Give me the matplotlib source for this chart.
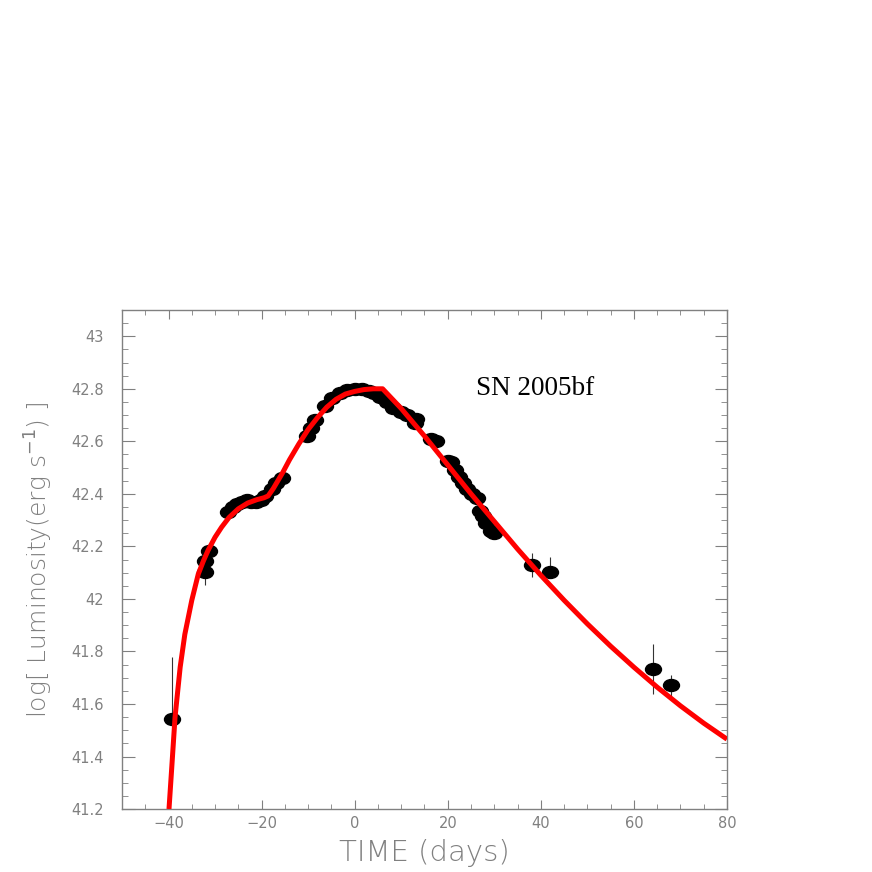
import numpy as np
import matplotlib.pyplot as plt
from matplotlib.path import Path
from matplotlib.transforms import Affine2D
from matplotlib.ticker import MultipleLocator, FuncFormatter

# observed bolometric light curve of SN 2005bf
days = [-39.2, -32.2, -32.2, -31.3, -27.2, -26.2, -25.2, -24.2, -23.2, -22.2,
        -21.2, -20.2, -19.2, -17.8, -16.9, -15.6, -10.3, -9.4, -8.5, -6.4,
        -4.8, -3.2, -1.6, 0.0, 1.5, 3.0, 4.2, 5.5, 7.0, 8.3,
        10.0, 11.3, 12.9, 13.2, 16.5, 17.5, 20.0, 20.8, 21.6, 22.4,
        23.2, 24.2, 25.3, 26.2, 26.9, 27.6, 28.3, 29.3, 30.0, 38.0,
        42.0, 64.0, 68.0]
logL = [41.542, 42.102, 42.144, 42.182, 42.33, 42.35, 42.36, 42.37, 42.375, 42.37,
        42.37, 42.375, 42.39, 42.42, 42.44, 42.46, 42.62, 42.65, 42.68, 42.735,
        42.765, 42.785, 42.795, 42.80, 42.80, 42.79, 42.785, 42.77, 42.75, 42.725,
        42.71, 42.70, 42.67, 42.685, 42.61, 42.60, 42.525, 42.52, 42.49, 42.465,
        42.44, 42.42, 42.40, 42.385, 42.335, 42.315, 42.29, 42.26, 42.25, 42.128,
        42.101, 41.732, 41.671]
err_lo = [0.0, 0.05] + [0.0] * 47 + [0.045, 0.0, 0.095, 0.04]
err_hi = [0.238, 0.0] + [0.0] * 47 + [0.045, 0.06, 0.095, 0.04]

# model curve
model_days = [-39.9, -39.3, -38.6, -37.5, -36.5, -35.0, -33.6, -32.5, -31.5, -30.0,
              -28.6, -27.0, -25.0, -23.0, -21.0, -19.5, -18.6, -17.5, -16.5, -15.5,
              -14.0, -12.0, -10.0, -8.0, -6.0, -4.0, -2.0, 0.0, 2.0, 4.0,
              6.0, 10.0, 15.0, 20.0, 25.0, 30.0, 35.0, 40.0, 45.0, 50.0,
              55.0, 60.0, 65.0, 70.0, 75.0, 80.0]
model_logL = [41.20, 41.36, 41.55, 41.74, 41.865, 41.995, 42.095, 42.145, 42.185, 42.235,
              42.273, 42.31, 42.343, 42.365, 42.378, 42.385, 42.392, 42.42, 42.45, 42.48,
              42.53, 42.59, 42.645, 42.69, 42.73, 42.76, 42.78, 42.79, 42.797, 42.80,
              42.80, 42.725, 42.62, 42.51, 42.40, 42.295, 42.19, 42.09, 41.995, 41.905,
              41.82, 41.74, 41.664, 41.593, 41.527, 41.466]

gray = '#808080'
plt.rcParams['font.family'] = ['DejaVu Sans']

fig = plt.figure(figsize=(8.72, 8.72), dpi=100)
ax = fig.add_axes([0.1399, 0.0722, 0.6938, 0.5723])

ellipse = Path.unit_circle().transformed(Affine2D().scale(1.0, 0.75))

ax.errorbar(days, logL, yerr=[err_lo, err_hi], fmt='none', ecolor='#333333',
            elinewidth=0.8, capsize=0, zorder=2)
ax.plot(days, logL, linestyle='none', marker=ellipse, markersize=11.5,
        color='black', zorder=3)
ax.plot(model_days, model_logL, color='red', linewidth=3.6, zorder=4,
        solid_capstyle='butt', solid_joinstyle='round')

ax.set_xlim(-50, 80)
ax.set_ylim(41.2, 43.1)
ax.xaxis.set_major_locator(MultipleLocator(20))
ax.xaxis.set_minor_locator(MultipleLocator(5))
ax.yaxis.set_major_locator(MultipleLocator(0.2))
ax.yaxis.set_minor_locator(MultipleLocator(0.05))
ax.yaxis.set_major_formatter(FuncFormatter(lambda v, p: ('%.1f' % v).rstrip('0').rstrip('.')))

ax.tick_params(axis='both', which='both', direction='in', top=True, right=True,
               color=gray, labelcolor=gray, labelsize=10.5)
ax.tick_params(axis='y', which='major', length=9, pad=13)
ax.tick_params(axis='y', which='minor', length=4.3)
ax.tick_params(axis='x', which='major', length=6.5, pad=5)
ax.tick_params(axis='x', which='minor', length=3.6)
for s in ax.spines.values():
    s.set_color(gray)
    s.set_linewidth(1.0)

ax.set_xlabel('TIME (days)', fontsize=21, color=gray, fontweight='light', labelpad=6)
ax.set_ylabel(r'log[ Luminosity(erg s$^{-1}$) ]', fontsize=18, color=gray,
              fontweight='light', labelpad=12)

ax.text(26, 42.8, 'SN 2005bf', fontsize=19.5, family='Liberation Serif',
        ha='left', va='center', color='black')

fig.savefig('out.png', dpi=100)
